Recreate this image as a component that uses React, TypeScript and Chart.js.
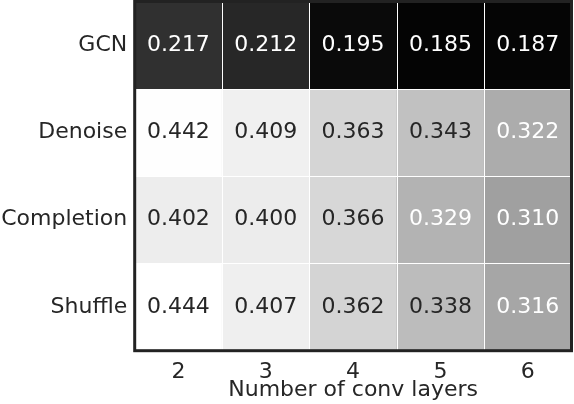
import { useEffect, useRef } from 'react';
import Chart from 'chart.js/auto';

const rowNames = ['GCN', 'Denoise', 'Completion', 'Shuffle'];
const layerLabels = ['2', '3', '4', '5', '6'];

const gcnScores = [0.217, 0.212, 0.195, 0.185, 0.187];
const denoiseScores = [0.442, 0.409, 0.363, 0.343, 0.322];
const completionScores = [0.402, 0.4, 0.366, 0.329, 0.31];
const shuffleScores = [0.444, 0.407, 0.362, 0.338, 0.316];

const rowScores = [gcnScores, denoiseScores, completionScores, shuffleScores];

const xTitle = 'Number of conv layers';

// grey colormap, fitted by eye to the reference
const greyStops: [number, number][] = [
  [0.185, 4],
  [0.195, 10],
  [0.217, 48],
  [0.31, 160],
  [0.362, 212],
  [0.4, 236],
  [0.444, 255],
];

function greyLevel(v: number) {
  if (v <= greyStops[0][0]) return greyStops[0][1];
  for (let i = 1; i < greyStops.length; i++) {
    const [v1, g1] = greyStops[i];
    if (v <= v1) {
      const [v0, g0] = greyStops[i - 1];
      return g0 + ((g1 - g0) * (v - v0)) / (v1 - v0);
    }
  }
  return 255;
}

function greyColor(v: number) {
  const g = Math.round(greyLevel(v));
  return `rgb(${g},${g},${g})`;
}

const FONT = "'DejaVu Sans', sans-serif";
const TEXT = '#262626';

export default function App() {
  const canvasRef = useRef<HTMLCanvasElement>(null);
  const chartRef = useRef<Chart | null>(null);

  useEffect(() => {
    if (!canvasRef.current) return;
    if (chartRef.current) chartRef.current.destroy();

    // white separators between cells + the values on top
    const cellText = {
      id: 'cellText',
      afterDatasetsDraw(chart: Chart) {
        const { ctx, scales, chartArea } = chart;
        ctx.save();
        ctx.strokeStyle = '#ffffff';
        ctx.lineWidth = 1;
        ctx.beginPath();
        for (let c = 1; c < layerLabels.length; c++) {
          const x = Math.round(scales.x.getPixelForValue(c - 0.5)) + 0.5;
          ctx.moveTo(x, chartArea.top);
          ctx.lineTo(x, chartArea.bottom);
        }
        for (let r = 1; r < rowNames.length; r++) {
          const y = Math.round(scales.y.getPixelForValue(r)) + 0.5;
          ctx.moveTo(chartArea.left, y);
          ctx.lineTo(chartArea.right, y);
        }
        ctx.stroke();

        ctx.font = `22px ${FONT}`;
        ctx.textAlign = 'center';
        ctx.textBaseline = 'middle';
        rowScores.forEach((row, r) => {
          row.forEach((v, c) => {
            const x = scales.x.getPixelForValue(c);
            const y = scales.y.getPixelForValue(r + 0.5);
            ctx.fillStyle = greyLevel(v) < 182 ? '#ffffff' : TEXT;
            ctx.fillText(v.toFixed(3), x, y);
          });
        });
        ctx.restore();
      },
    };

    const frame = {
      id: 'frame',
      afterDraw(chart: Chart) {
        const { ctx, chartArea } = chart;
        ctx.save();
        ctx.strokeStyle = '#222222';
        ctx.lineWidth = 3;
        ctx.strokeRect(chartArea.left, chartArea.top, chartArea.right - chartArea.left, chartArea.bottom - chartArea.top);
        ctx.restore();
      },
    };

    chartRef.current = new Chart(canvasRef.current, {
      type: 'bar',
      data: {
        labels: layerLabels,
        datasets: rowScores.map((row, r) => ({
          label: rowNames[r],
          data: row.map(() => 1),
          backgroundColor: row.map(greyColor),
          borderWidth: 0,
          categoryPercentage: 1,
          barPercentage: 1,
        })),
      },
      options: {
        animation: false,
        responsive: true,
        maintainAspectRatio: false,
        layout: { padding: { top: 1.5, right: 2.5, left: 0, bottom: 0 } },
        plugins: {
          legend: { display: false },
          tooltip: { enabled: false },
        },
        scales: {
          x: {
            stacked: true,
            grid: { display: false, drawTicks: false },
            border: { display: false },
            ticks: { color: TEXT, font: { family: FONT, size: 22 }, padding: 8 },
            title: {
              display: true,
              text: xTitle,
              color: TEXT,
              font: { family: FONT, size: 22 },
              padding: { top: 0, bottom: 1 },
            },
            afterFit(scale: any) {
              scale.height = 53.3;
              scale.paddingLeft = 0;
              scale.paddingRight = 0;
            },
          },
          y: {
            stacked: true,
            reverse: true,
            min: 0,
            max: 4,
            grid: { display: false, drawTicks: false },
            border: { display: false },
            ticks: {
              color: TEXT,
              font: { family: FONT, size: 22 },
              padding: 7.5,
              callback: (v: any) => rowNames[Math.floor(Number(v))] ?? '',
            },
            afterBuildTicks(scale: any) {
              scale.ticks = rowNames.map((_, i) => ({ value: i + 0.5 }));
            },
            afterFit(scale: any) {
              scale.width = 134.7;
              scale.paddingTop = 0;
              scale.paddingBottom = 0;
            },
          },
        },
      },
      plugins: [cellText, frame],
    });

    return () => {
      if (chartRef.current) {
        chartRef.current.destroy();
        chartRef.current = null;
      }
    };
  }, []);

  return (
    <div style={{ position: 'absolute', left: 0, top: 0, width: 574, height: 404, background: '#fff' }}>
      <canvas ref={canvasRef} />
    </div>
  );
}
